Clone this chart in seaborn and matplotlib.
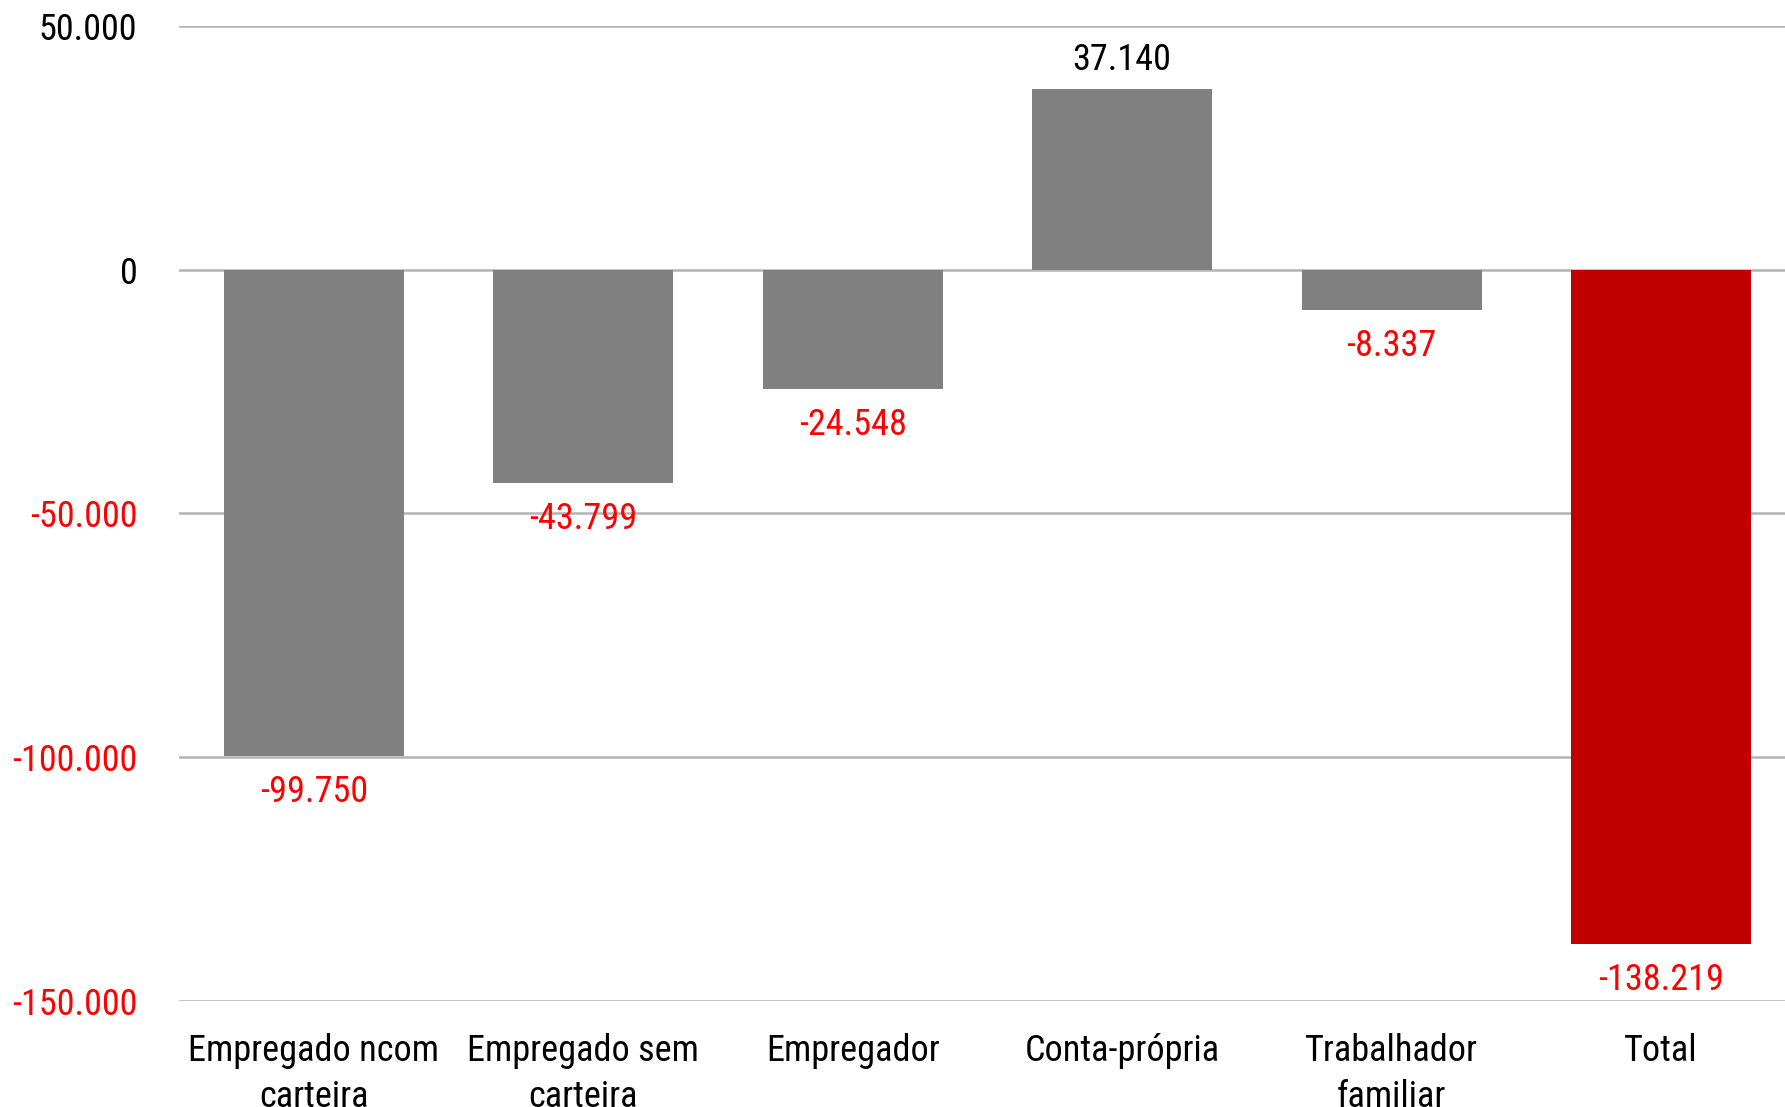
import matplotlib
matplotlib.use("Agg")
import matplotlib.pyplot as plt
import seaborn as sns
import pandas as pd
from matplotlib import font_manager
from matplotlib.font_manager import FontProperties
from matplotlib.textpath import TextPath

categories = ["Empregado ncom\ncarteira", "Empregado sem\ncarteira", "Empregador",
              "Conta-própria", "Trabalhador\nfamiliar", "Total"]
values = [-99750, -43799, -24548, 37140, -8337, -138219]
bar_colors = ["#808080", "#808080", "#808080", "#808080", "#808080", "#C00000"]
yticks = [50000, 0, -50000, -100000, -150000]

sns.set_theme(style="white")

# pick a narrow/condensed font if any is installed
def pick_font():
    fl = font_manager.fontManager.ttflist
    prefs = ["Liberation Sans Narrow", "Roboto Condensed", "Open Sans Condensed",
             "Noto Sans Condensed", "DejaVu Sans Condensed"]
    for p in prefs:
        for f in fl:
            if f.name == p and f.style == "normal" and f.weight in (400, "normal", "regular"):
                return f.fname
    for f in fl:
        if f.name in ("DejaVu Sans", "Noto Sans", "Roboto", "Open Sans", "Liberation Sans") \
                and f.stretch in ("condensed", "semi-condensed", "extra-condensed") \
                and f.style == "normal" and f.weight in (400, "normal", "regular"):
            return f.fname
    return font_manager.findfont(FontProperties(family="Liberation Sans"))

fpath = pick_font()
probe = FontProperties(fname=fpath)
w1 = TextPath((0, 0), "-150.000", size=1, prop=probe).get_extents().width
h1 = TextPath((0, 0), "0", size=1, prop=probe).get_extents().height
fs = min(123 * 0.72 / w1, 27 * 0.72 / h1)

def fp():
    return FontProperties(fname=fpath, size=fs)

def fmt(v):
    s = f"{abs(int(v)):,}".replace(",", ".")
    return "-" + s if v < 0 else s

df = pd.DataFrame({"cat": categories, "val": values})

fig = plt.figure(figsize=(17.85, 11.07), dpi=100)
ax = fig.add_axes([179/1785, 1 - 1001/1107, 1 - 179/1785, (1001 - 26)/1107])
sns.barplot(data=df, x="cat", y="val", hue="cat", palette=bar_colors, legend=False,
            width=0.668, ax=ax, saturation=1, linewidth=0)

ax.set_ylim(-150000, 50000)
ax.set_xlim(-0.5, 5.46)
ax.set_yticks(yticks)
ax.set_yticklabels([fmt(t) for t in yticks])
for lbl, t in zip(ax.get_yticklabels(), yticks):
    lbl.set_color("#FF0000" if t < 0 else "black")
    lbl.set_fontproperties(fp())
ax.tick_params(axis="y", length=0, pad=30)
ax.tick_params(axis="x", length=0, pad=23)
ax.set_xticks(range(len(categories)))
ax.set_xticklabels(categories, linespacing=1.35)
for t in ax.get_xticklabels():
    t.set_fontproperties(fp())
    t.set_color("black")
ax.set_xlabel("")
ax.set_ylabel("")
ax.grid(axis="y", color="#b3b3b3", linewidth=1.8)
ax.set_axisbelow(True)
for s in ax.spines.values():
    s.set_visible(False)

for i, v in enumerate(values):
    if v < 0:
        ax.annotate(fmt(v), (i, v), xytext=(0, -13), textcoords="offset points",
                    ha="center", va="top", fontproperties=fp(), color="#FF0000")
    else:
        ax.annotate(fmt(v), (i, v), xytext=(0, 8), textcoords="offset points",
                    ha="center", va="bottom", fontproperties=fp(), color="black")

fig.savefig("out.png", dpi=100)
